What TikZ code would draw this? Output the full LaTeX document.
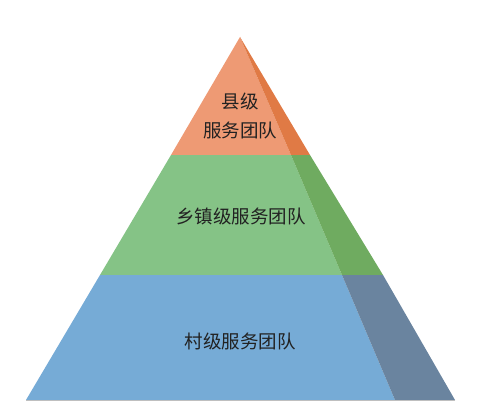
\documentclass[tikz,border=0pt]{standalone}
\usepackage{fontspec}
\newfontfamily\cjk{Noto Sans CJK SC}
\definecolor{orF}{HTML}{EE9A74}
\definecolor{orS}{HTML}{E07A45}
\definecolor{grF}{HTML}{85C386}
\definecolor{grS}{HTML}{6FAB60}
\definecolor{blF}{HTML}{76ABD6}
\definecolor{blS}{HTML}{6A849F}
\definecolor{txt}{HTML}{222222}
\begin{document}
\begin{tikzpicture}[x=1pt,y=-1pt,
  lbl/.style={font=\cjk\fontsize{18.5}{29}\selectfont, text=txt, align=center, inner sep=0pt}]
\useasboundingbox (0,0) rectangle (500,417);
% key points
\coordinate (A) at (240,37);
\coordinate (L1) at (171,155);
\coordinate (M1) at (291,155);
\coordinate (R1) at (310,155);
\coordinate (L2) at (100,275);
\coordinate (M2) at (342,275);
\coordinate (R2) at (383,275);
\coordinate (L3) at (26,400);
\coordinate (M3) at (395,400);
\coordinate (R3) at (455,400);
% top tier
\fill[orF] (A) -- (M1) -- (L1) -- cycle;
\fill[orS] (A) -- (R1) -- (M1) -- cycle;
% middle tier
\fill[grF] (L1) -- (M1) -- (M2) -- (L2) -- cycle;
\fill[grS] (M1) -- (R1) -- (R2) -- (M2) -- cycle;
% bottom tier
\fill[blF] (L2) -- (M2) -- (M3) -- (L3) -- cycle;
\fill[blS] (M2) -- (R2) -- (R3) -- (M3) -- cycle;
\draw[color=gray!50, line width=0.8pt] (L3) -- (R3);
% labels
\node[lbl] (t1) at (240,116) {县级\\服务团队};
\node[lbl] (t2) at (241,216) {乡镇级服务团队};
\node[lbl] (t3) at (240,341) {村级服务团队};
\end{tikzpicture}
\end{document}
